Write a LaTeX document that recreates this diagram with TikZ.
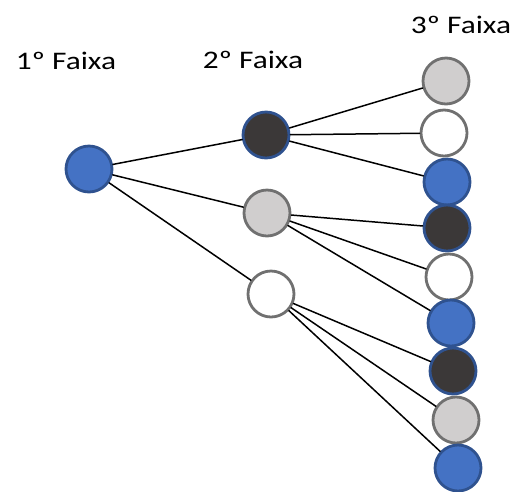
\documentclass[tikz,border=0pt]{standalone}
\usepackage{fontspec}
\usepackage{tikz}
\setmainfont[FakeStretch=1.24]{Carlito}
\definecolor{ddxxcc}{rgb}{0.267,0.447,0.769}
\definecolor{ccffpp}{rgb}{0.184,0.322,0.561}
\definecolor{uuuuuu}{rgb}{0.231,0.220,0.220}
\definecolor{ccccdd}{rgb}{0.816,0.808,0.808}
\definecolor{ffffgg}{rgb}{0.440,0.440,0.440}
\tikzstyle{every node}=[font=\fontsize{25.3}{30}\selectfont]

\begin{document}
\begin{tikzpicture}[line cap=round,line join=round,x=1pt,y=-1pt,
  bola/.style={circle,minimum size=46pt,inner sep=0pt,line width=2.8pt},
  azul/.style={bola,draw=ccffpp,fill=ddxxcc},
  preta/.style={bola,draw=ccffpp,fill=uuuuuu},
  cinza/.style={bola,draw=ffffgg,fill=ccccdd},
  branca/.style={bola,draw=ffffgg,fill=white},
  liga/.style={line width=1.5pt,black}]
\useasboundingbox (0,0) rectangle (518,491);
\node[anchor=base] (t1) at (66,69) {1º Faixa};
\node[anchor=base] (t2) at (253,68) {2º Faixa};
\node[anchor=base] (t3) at (461,33) {3º Faixa};
% 1a faixa
\node[azul] (a) at (89,169) {};
% 2a faixa
\node[preta] (b1) at (266,135) {};
\node[cinza] (b2) at (267,213) {};
\node[branca] (b3) at (271,294) {};
% 3a faixa
\node[cinza] (c1) at (446,81) {};
\node[branca] (c2) at (444,133) {};
\node[azul] (c3) at (447,182) {};
\node[preta] (c4) at (447,228) {};
\node[branca] (c5) at (449,277) {};
\node[azul] (c6) at (451,323) {};
\node[preta] (c7) at (453,371) {};
\node[cinza] (c8) at (456,420) {};
\node[azul] (c9) at (458,468) {};
\foreach \i in {1,2,3} \draw[liga] (a) -- (b\i);
\foreach \i in {1,2,3} \draw[liga] (b1) -- (c\i);
\foreach \i in {4,5,6} \draw[liga] (b2) -- (c\i);
\foreach \i in {7,8,9} \draw[liga] (b3) -- (c\i);
\end{tikzpicture}
\end{document}
